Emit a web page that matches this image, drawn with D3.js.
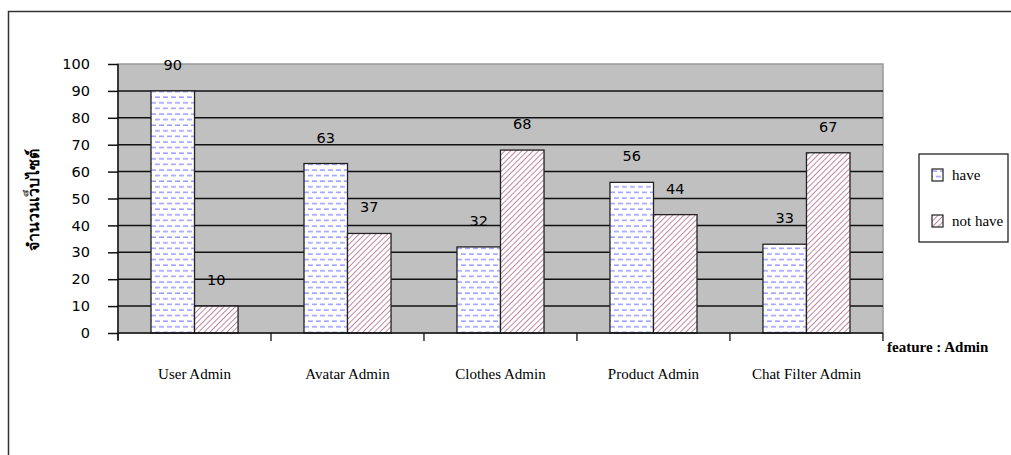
<!DOCTYPE html>
<html>
<head>
<meta charset="utf-8">
<script src="https://cdn.jsdelivr.net/npm/d3@7"></script>
<style>
  body { margin: 0; background: #fff; }
  svg { display: block; }
</style>
</head>
<body>
<svg width="1011" height="455"></svg>
<script>
// chart data
const categories = ['User Admin', 'Avatar Admin', 'Clothes Admin', 'Product Admin', 'Chat Filter Admin'];
const seriesNames = ['have', 'not have'];
const have = [90, 63, 32, 56, 33];
const notHave = [10, 37, 68, 44, 67];
const yTicks = [0, 10, 20, 30, 40, 50, 60, 70, 80, 90, 100];

const rows = categories.map((c, i) => ({ cat: c, values: [have[i], notHave[i]] }));

const svg = d3.select('svg');
const defs = svg.append('defs');

// dashed blue fill for "have"
const p1 = defs.append('pattern')
  .attr('id', 'dash')
  .attr('patternUnits', 'userSpaceOnUse')
  .attr('width', 8).attr('height', 11.2);
p1.append('rect').attr('width', 8).attr('height', 11.2).attr('fill', '#fff');
[[0, 5, 2], [4, 9, 7.6], [-4, 1, 7.6]].forEach(([a, b, yy]) => {
  p1.append('line').attr('x1', a).attr('x2', b).attr('y1', yy).attr('y2', yy)
    .attr('stroke', '#8c8cff').attr('stroke-width', 1.3);
});

// diagonal hatch for "not have"
const p2 = defs.append('pattern')
  .attr('id', 'hatch')
  .attr('patternUnits', 'userSpaceOnUse')
  .attr('width', 4).attr('height', 4)
  .attr('patternTransform', 'rotate(45)');
p2.append('rect').attr('width', 4).attr('height', 4).attr('fill', '#fff');
p2.append('line').attr('x1', 0).attr('x2', 0).attr('y1', 0).attr('y2', 4)
  .attr('stroke', '#a04870').attr('stroke-width', 1.3);

const fills = ['url(#dash)', 'url(#hatch)'];

// outer frame
svg.append('path')
  .attr('d', 'M8.5,460 V11.5 H1011')
  .attr('fill', 'none').attr('stroke', '#333').attr('stroke-width', 1.5);

const plotL = 118, plotR = 883, plotT = 64, plotB = 333;

const x0 = d3.scaleBand()
  .domain(categories)
  .range([plotL, plotR])
  .paddingInner(0.431)
  .paddingOuter(0.2157);

const x1 = d3.scaleBand()
  .domain(seriesNames)
  .range([0, x0.bandwidth()]);

const y = d3.scaleLinear().domain([0, 100]).range([plotB, plotT]);

// plot area
svg.append('rect')
  .attr('x', plotL).attr('y', plotT)
  .attr('width', plotR - plotL).attr('height', plotB - plotT)
  .attr('fill', '#c0c0c0')
  .attr('stroke', '#999').attr('stroke-width', 1.5);

// gridlines
svg.append('g')
  .selectAll('line')
  .data(yTicks.filter(t => t > 0 && t < 100))
  .join('line')
  .attr('x1', plotL).attr('x2', plotR)
  .attr('y1', d => y(d)).attr('y2', d => y(d))
  .attr('stroke', '#111').attr('stroke-width', 1.5);

const yAxis = svg.append('g')
  .attr('transform', `translate(${plotL},0)`)
  .call(d3.axisLeft(y).tickValues(yTicks).tickSize(10).tickPadding(18));
yAxis.select('.domain').attr('stroke', '#111').attr('stroke-width', 1.5)
  .attr('d', `M0,${plotT}V${plotB + 7}`);
yAxis.selectAll('.tick line').attr('stroke', '#111').attr('stroke-width', 1.5);
yAxis.selectAll('.tick text')
  .attr('font-family', 'DejaVu Sans, sans-serif')
  .attr('font-size', 14.5)
  .attr('fill', '#000');

// bars
const groups = svg.append('g')
  .selectAll('g')
  .data(rows)
  .join('g')
  .attr('transform', d => `translate(${x0(d.cat)},0)`);

groups.selectAll('rect')
  .data(d => d.values.map((v, i) => ({ key: seriesNames[i], v, i })))
  .join('rect')
  .attr('x', d => x1(d.key))
  .attr('y', d => y(d.v))
  .attr('width', x1.bandwidth())
  .attr('height', d => y(0) - y(d.v))
  .attr('fill', d => fills[d.i])
  .attr('stroke', '#222').attr('stroke-width', 1.3);

groups.selectAll('text')
  .data(d => d.values.map((v, i) => ({ key: seriesNames[i], v, i })))
  .join('text')
  .attr('x', d => x1(d.key) + x1.bandwidth() / 2)
  .attr('y', d => y(d.v) - 21)
  .attr('text-anchor', 'middle')
  .attr('font-family', 'DejaVu Sans, sans-serif')
  .attr('font-size', 14.5)
  .text(d => d.v);

// x axis
const xAxis = svg.append('g')
  .attr('transform', `translate(0,${plotB})`)
  .call(d3.axisBottom(x0).tickSize(0).tickPadding(35));
xAxis.select('.domain').remove();
xAxis.append('line')
  .attr('x1', plotL).attr('x2', plotR)
  .attr('stroke', '#111').attr('stroke-width', 1.5);
xAxis.selectAll('.sep')
  .data(d3.range(categories.length + 1))
  .join('line')
  .attr('class', 'sep')
  .attr('x1', i => plotL + i * x0.step()).attr('x2', i => plotL + i * x0.step())
  .attr('y1', 0).attr('y2', 8)
  .attr('stroke', '#111').attr('stroke-width', 1.3);
xAxis.selectAll('.tick text')
  .attr('font-family', 'Liberation Serif, serif')
  .attr('font-size', 15)
  .attr('fill', '#000');

// axis titles
svg.append('text')
  .attr('x', 887).attr('y', 352)
  .attr('font-family', 'Liberation Serif, serif')
  .attr('font-size', 15)
  .attr('font-weight', 'bold')
  .text('feature : Admin');

svg.append('text')
  .attr('transform', 'translate(39,200) rotate(-90)')
  .attr('text-anchor', 'middle')
  .attr('font-family', 'Noto Sans, Liberation Serif, serif')
  .attr('font-size', 16)
  .attr('font-weight', 'bold')
  .text('จำนวนเว็บไซต์');

// legend
const legend = svg.append('g').attr('transform', 'translate(919,154)');
legend.append('rect')
  .attr('width', 89).attr('height', 88)
  .attr('fill', '#fff').attr('stroke', '#222').attr('stroke-width', 1.3);
const li = legend.selectAll('g')
  .data(seriesNames)
  .join('g')
  .attr('transform', (d, i) => `translate(13,${15 + i * 46})`);
li.append('rect')
  .attr('width', 11).attr('height', 12)
  .attr('fill', (d, i) => fills[i])
  .attr('stroke', '#222').attr('stroke-width', 1.2);
li.append('text')
  .attr('x', 20).attr('y', 11)
  .attr('font-family', 'Liberation Serif, serif')
  .attr('font-size', 15)
  .text(d => d);
</script>
</body>
</html>
